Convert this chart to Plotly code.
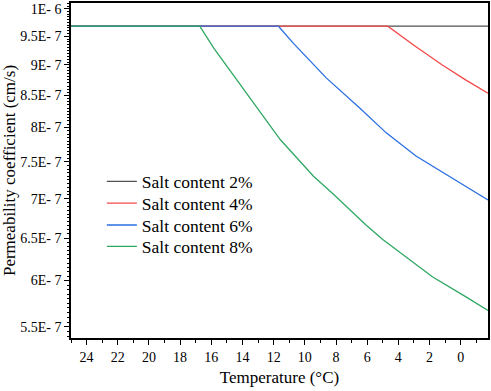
import numpy as np
import plotly.graph_objects as go

# Data (temperature in °C, permeability in cm/s)
t_2 = [25.0, -1.75]
k_2 = [9.68e-7, 9.68e-7]

t_4 = [25.0, 4.68, 2.87, 1.18, -0.31, -1.75]
k_4 = [9.68e-7, 9.68e-7, 9.315e-7, 9.00e-7, 8.751e-7, 8.535e-7]

t_6 = [25.0, 11.69, 10.73, 8.61, 6.48, 4.78, 2.87, 0.96, -0.95, -1.75]
k_6 = [9.68e-7, 9.68e-7, 9.373e-7, 8.78e-7, 8.30e-7, 7.921e-7, 7.584e-7, 7.329e-7, 7.081e-7, 6.982e-7]

t_8 = [25.0, 16.74, 15.83, 14.76, 13.70, 12.64, 11.58, 10.52, 9.46, 8.18, 6.06, 5.0, 3.94, 1.82, -0.31, -1.75]
k_8 = [9.68e-7, 9.68e-7, 9.286e-7, 8.891e-7, 8.511e-7, 8.147e-7, 7.822e-7, 7.559e-7, 7.305e-7,
       7.06e-7, 6.657e-7, 6.481e-7, 6.333e-7, 6.044e-7, 5.822e-7, 5.672e-7]

series_names = ["Salt content 2%", "Salt content 4%", "Salt content 6%", "Salt content 8%"]
series_colors = ["#505050", "#f44848", "#2a6fe0", "#2fa862"]

y_tickvals = [5.5e-7, 6e-7, 6.5e-7, 7e-7, 7.5e-7, 8e-7, 8.5e-7, 9e-7, 9.5e-7, 1e-6]
y_ticktext = ["5.5E- 7", "6E- 7", "6.5E- 7", "7E- 7", "7.5E- 7", "8E- 7", "8.5E- 7", "9E- 7", "9.5E- 7", "1E- 6"]
y_minorvals = [round(v, 12) for v in np.arange(5.4e-7, 1.0101e-6, 5e-9)]

FONT = "Liberation Serif"
X_RANGE = [25, -1.75]
Y_RANGE = [np.log10(5.386e-7), np.log10(1.0112e-6)]

legend_ids = ["legend", "legend2", "legend3", "legend4"]
legend_y = [0.467, 0.402, 0.337, 0.273]

fig = go.Figure()
for t, k, name, col, lg in zip([t_2, t_4, t_6, t_8], [k_2, k_4, k_6, k_8], series_names, series_colors, legend_ids):
    fig.add_trace(go.Scatter(x=t, y=k, mode="lines", name=name, legend=lg,
                             line=dict(color=col, width=1.3)))

# transparent copy on overlay axes that carry the minor y ticks
fig.add_trace(go.Scatter(x=t_2, y=k_2, xaxis="x2", yaxis="y2", mode="lines",
                         line=dict(color="rgba(0,0,0,0)", width=0), showlegend=False, hoverinfo="skip"))

layout_legends = {}
for lg, ly in zip(legend_ids, legend_y):
    layout_legends[lg] = dict(x=0.074, y=ly, xanchor="left", yanchor="middle",
                              font=dict(family=FONT, size=17.5, color="black"),
                              bgcolor="rgba(0,0,0,0)", borderwidth=0)

fig.update_layout(
    width=491, height=391,
    margin=dict(l=71, r=2, t=1, b=53),
    paper_bgcolor="white", plot_bgcolor="white",
    font=dict(family=FONT, color="black", size=14),
    showlegend=True,
    xaxis=dict(range=X_RANGE, tickmode="linear", tick0=0, dtick=2,
               ticks="outside", ticklen=5, tickwidth=1, tickcolor="black",
               showline=True, linecolor="black", linewidth=1.5, mirror=True,
               showgrid=False, zeroline=False,
               tickfont=dict(family=FONT, size=14),
               minor=dict(tick0=1, dtick=1, ticks="outside", ticklen=3.5, tickwidth=1,
                          tickcolor="black", showgrid=False),
               title=dict(text="Temperature (°C)", font=dict(family=FONT, size=17), standoff=8)),
    yaxis=dict(type="log", range=Y_RANGE,
               tickmode="array", tickvals=y_tickvals, ticktext=y_ticktext,
               ticks="outside", ticklen=5, tickwidth=1, tickcolor="black",
               showline=True, linecolor="black", linewidth=1.5, mirror=True,
               showgrid=False, zeroline=False,
               tickfont=dict(family=FONT, size=14),
               title=dict(text="Permeability coefficient (cm/s)", font=dict(family=FONT, size=17), standoff=3)),
    xaxis2=dict(overlaying="x", anchor="y2", side="bottom", range=X_RANGE, showticklabels=False,
                ticks="", showline=False, showgrid=False, zeroline=False),
    yaxis2=dict(overlaying="y", anchor="x2", side="left", type="log", range=Y_RANGE,
                tickmode="array", tickvals=y_minorvals,
                ticks="outside", ticklen=3.5, tickwidth=1, tickcolor="black", showticklabels=False,
                showline=False, showgrid=False, zeroline=False),
    **layout_legends,
)

fig.write_html("out.html", config={"displayModeBar": False},
               post_script="document.body.style.margin='0';")
